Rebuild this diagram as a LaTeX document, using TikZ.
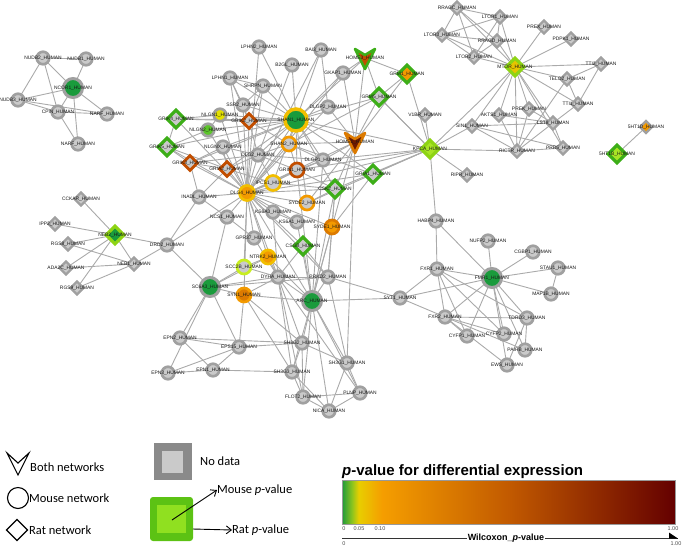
\documentclass[tikz,border=0pt]{standalone}
\usepackage{fontspec}
\setmainfont{Liberation Sans}
\newfontfamily\legf{Carlito}
\usetikzlibrary{shapes.geometric,arrows.meta}
\pgfdeclarelayer{bg}\pgfsetlayers{bg,main}
\definecolor{rg}{HTML}{A0A0A0}
\definecolor{fg}{HTML}{CACACA}
\definecolor{edgec}{HTML}{AAAAAA}
\definecolor{dg}{HTML}{1A9B3C}
\definecolor{gr}{HTML}{3DAE18}
\definecolor{lg}{HTML}{5CC52A}
\definecolor{yl}{HTML}{E3E000}
\definecolor{yr}{HTML}{F2BE00}
\definecolor{or}{HTML}{F39A00}
\definecolor{or2}{HTML}{DC7A00}
\definecolor{do}{HTML}{C24E00}
\definecolor{dr}{HTML}{6E1A00}
\definecolor{lr}{HTML}{8ED414}
\definecolor{lm}{HTML}{A8E425}
\definecolor{ye}{HTML}{E6C400}
\definecolor{yg}{HTML}{C8EE20}
\definecolor{c0}{HTML}{1F9A3A}
\definecolor{c1}{HTML}{8CC41E}
\definecolor{c2}{HTML}{E8CE00}
\definecolor{c3}{HTML}{F59E00}
\definecolor{c4}{HTML}{C25A00}
\definecolor{c5}{HTML}{640000}
\definecolor{sqd}{HTML}{8A8A8A}
\definecolor{gsq}{HTML}{5CC214}
\definecolor{gsqi}{HTML}{90E020}
\pgfdeclarehorizontalshading{cbar}{100bp}{color(0bp)=(c0); color(25bp)=(c0); color(26.5bp)=(c1); color(27.5bp)=(c2); color(31bp)=(c3); color(50bp)=(c4); color(75bp)=(c5); color(100bp)=(c5)}
\newcommand\N[4]{\node[#1,label={[lb]center:#4}] (#2) at (#3) {};}
\newcommand\V[6]{%
  \coordinate (#1) at (#2,#3);
  \path[draw=#4,fill=#5,line width=2.6pt,line join=round,shift={(#2,#3)}]
    (-10,-9) -- (0,-3) -- (10,-9) -- (0,11) -- cycle;
  \node[lb] (#1l) at (#2,#3) {#6};}
\begin{document}
\begin{tikzpicture}[x=1pt,y=-1pt,
  edge/.style={draw=edgec,line width=0.9pt},
  lb/.style={font=\fontsize{4.9}{5}\selectfont,text=black!90,inner sep=0pt},
  cir/.style 2 args={circle,minimum size=12.5pt,inner sep=0pt,draw=#1,fill=#2,line width=2.7pt},
  big/.style={minimum size=19pt,line width=3pt},
  dia/.style 2 args={diamond,minimum size=19pt,inner sep=0pt,draw=#1,fill=#2,line width=3.2pt},
  sdia/.style={minimum size=16pt,line width=2.8pt},
  gc/.style={cir={rg}{fg}},
  gd/.style={diamond,minimum size=14pt,inner sep=0pt,draw=rg,fill=fg,line width=2.4pt},
  legt/.style={font=\legf\fontsize{12.5}{13}\selectfont,anchor=west,inner sep=0pt},
  tick/.style={font=\fontsize{5.5}{6}\selectfont,text=black!70,inner sep=0pt}]
\useasboundingbox (0,0) rectangle (685,550);
% ---------- top-left cluster
\N{gc}{nudb2}{43,58}{NUDB2\_HUMAN}
\N{gc}{nudb1}{86,59}{NUDB1\_HUMAN}
\N{cir={rg}{dg},big}{ncor1}{73,88}{NCOR1\_HUMAN}
\N{gc}{nudb3}{18,100}{NUDB3\_HUMAN}
\N{gc}{cpin}{58,112}{CPIN\_HUMAN}
\N{gc}{narfa}{107,114}{NARF\_HUMAN}
\N{gc}{narfb}{78,144}{NARF\_HUMAN}
% ---------- central cluster
\N{gc}{lphn2}{259,47}{LPHN2\_HUMAN}
\N{gc}{b2gl}{292,65}{B2GL\_HUMAN}
\N{gc}{bai3}{321,50}{BAI3\_HUMAN}
\N{gc}{lphn1}{230,78}{LPHN1\_HUMAN}
\N{gc}{shrpn}{263,86}{SHRPN\_HUMAN}
\N{gc}{ssr2}{243,105}{SSR2\_HUMAN}
\N{dia={gr}{fg}}{grik4}{176,119}{GRIK4\_HUMAN}
\N{cir={rg}{yl}}{nlgn1}{220,115}{NLGN1\_HUMAN}
\N{cir={rg}{lg}}{nlgn2}{208,130}{NLGN2\_HUMAN}
\N{dia={do}{fg},sdia}{grik2}{249,121}{GRIK2\_HUMAN}
\N{gc}{nlgnx}{223,147}{NLGNX\_HUMAN}
\N{dia={gr}{fg}}{grik5}{167,147}{GRIK5\_HUMAN}
\N{dia={do}{fg},sdia}{grik3}{190,163}{GRIK3\_HUMAN}
\N{dia={do}{fg},sdia}{gria2}{227,169}{GRIA2\_HUMAN}
\N{gc}{dlg2}{258,155}{DLG2\_HUMAN}
\N{cir={or}{fg},minimum size=14pt}{shan2}{289,144}{SHAN2\_HUMAN}
\N{gc}{dlgp1}{323,160}{DLGP1\_HUMAN}
\N{cir={do}{fg},minimum size=14pt}{grin1}{297,170}{GRIN1\_HUMAN}
\N{cir={yr}{fg},minimum size=15pt}{ipcs1}{273,183}{IPCS1\_HUMAN}
\N{cir={yr}{or},minimum size=15pt}{dlg4}{247,193}{DLG4\_HUMAN}
\N{gc}{inadl}{199,197}{INADL\_HUMAN}
\N{gc}{ncs1}{227,217}{NCS1\_HUMAN}
\N{gc}{ks6a3}{273,212}{KS6A3\_HUMAN}
\N{gc}{ks6a1}{297,222}{KS6A1\_HUMAN}
\N{cir={or}{fg},minimum size=14pt}{syde2}{307,203}{SYDE2\_HUMAN}
\N{cir={or2}{or},minimum size=14pt}{syde1}{332,227}{SYDE1\_HUMAN}
\N{dia={gr}{fg}}{csk2}{335,189}{CSK2\_HUMAN}
\N{dia={gr}{fg}}{gria1}{373,174}{GRIA1\_HUMAN}
\N{cir={yr}{dg},minimum size=22pt,line width=3.5pt}{shan1}{296,120}{SHAN1\_HUMAN}
\N{gc}{gkap1}{343,73}{GKAP1\_HUMAN}
\N{dia={gr}{or}}{grm1}{407,74}{GRM1\_HUMAN}
\N{dia={gr}{fg}}{grm5}{379,97}{GRM5\_HUMAN}
\N{gd}{v1br}{425,115}{V1BR\_HUMAN}
\N{gc}{dlgp2}{328,107}{DLGP2\_HUMAN}
\V{home1}{355}{142}{or2}{dr}{HOME1\_HUMAN}
\V{home3}{365}{58}{gr}{do}{HOME3\_HUMAN}
\N{dia={lr}{lm}}{kpca}{430,149}{KPCA\_HUMAN}
% ---------- top-right cluster
\N{gd}{rragc}{457,8}{RRAGC\_HUMAN}
\N{gd}{ltor1}{500,17}{LTOR1\_HUMAN}
\N{gd}{prex}{544,27}{PREX\_HUMAN}
\N{gd}{pdpk1}{571,39}{PDPK1\_HUMAN}
\N{gd}{ltor3}{442,35}{LTOR3\_HUMAN}
\N{gd}{rragd}{497,41}{RRAGD\_HUMAN}
\N{gd}{ltor2}{474,57}{LTOR2\_HUMAN}
\N{gd}{tti2}{601,64}{TTI2\_HUMAN}
\N{gd}{telo2}{567,79}{TELO2\_HUMAN}
\N{gd}{tti1}{578,104}{TTI1\_HUMAN}
\N{gd}{prek}{529,109}{PREK\_HUMAN}
\N{gd}{akts1}{499,115}{AKTS1\_HUMAN}
\N{gd}{sin1}{472,126}{SIN1\_HUMAN}
\N{gd}{lst8}{553,123}{LST8\_HUMAN}
\N{gd}{rictr}{517,151}{RICTR\_HUMAN}
\N{gd}{prr5}{563,148}{PRR5\_HUMAN}
\N{dia={lr}{ye}}{mtor}{515,67}{MTOR\_HUMAN}
\N{gd,fill=or,minimum size=13pt}{htd}{646,127}{5HT1D\_HUMAN}
\N{dia={gr}{lm}}{htb}{617,154}{5HT1B\_HUMAN}
\N{gd}{ripr}{467,175}{RIPR\_HUMAN}
% ---------- left-middle cluster
\N{gd}{cckar}{81,199}{CCKAR\_HUMAN}
\N{gd}{ipp2}{55,224}{IPP2\_HUMAN}
\N{dia={lr}{dg}}{neb2}{115,235}{NEB2\_HUMAN}
\N{gd}{rgs8}{68,244}{RGS8\_HUMAN}
\N{gc}{drd2}{167,245}{DRD2\_HUMAN}
\N{gd}{neb1}{134,264}{NEB1\_HUMAN}
\N{gd}{ada2c}{66,268}{ADA2C\_HUMAN}
\N{gd}{rgs9}{77,288}{RGS9\_HUMAN}
% ---------- lower centre
\N{gc}{gpr37}{254,238}{GPR37\_HUMAN}
\N{dia={gr}{fg}}{csgb}{303,246}{CSGB\_HUMAN}
\N{cir={yr}{or},minimum size=14pt}{ntrk2}{268,257}{NTRK2\_HUMAN}
\N{cir={yg}{fg},minimum size=14pt}{scc2b}{244,267}{SCC2B\_HUMAN}
\N{gc}{dyha}{278,277}{DYHA\_HUMAN}
\N{gc}{prkd2}{328,277}{PRKD2\_HUMAN}
\N{cir={rg}{dg},big}{sc6a3}{210,287}{SC6A3\_HUMAN}
\N{cir={or}{or2},minimum size=14pt}{syn1}{244,295}{SYN1\_HUMAN}
\N{cir={rg}{dg},big}{arc}{312,301}{ARC\_HUMAN}
\N{gc}{epn2}{180,338}{EPN2\_HUMAN}
\N{gc}{eps15}{239,347}{EPS15\_HUMAN}
\N{gc}{sh3g2}{302,343}{SH3G2\_HUMAN}
\N{gc}{epn3}{168,373}{EPN3\_HUMAN}
\N{gc}{epn1}{213,370}{EPN1\_HUMAN}
\N{gc}{sh3g3}{292,372}{SH3G3\_HUMAN}
\N{gc}{sh3g1}{347,363}{SH3G1\_HUMAN}
\N{gc}{flot2}{303,397}{FLOT2\_HUMAN}
\N{gc}{plnp}{360,393}{PLNP\_HUMAN}
\N{gc}{nica}{329,411}{NICA\_HUMAN}
% ---------- lower right
\N{gc}{syt1}{400,298}{SYT1\_HUMAN}
\N{gc}{habp4}{436,221}{HABP4\_HUMAN}
\N{gc}{nufp2}{488,241}{NUFP2\_HUMAN}
\N{gc}{cgbp1}{533,252}{CGBP1\_HUMAN}
\N{gc}{fxr1}{437,269}{FXR1\_HUMAN}
\N{cir={rg}{dg},big}{fmr1}{492,278}{FMR1\_HUMAN}
\N{gc}{stau1}{558,268}{STAU1\_HUMAN}
\N{gc}{map1b}{551,294}{MAP1B\_HUMAN}
\N{gc}{fxr2}{445,317}{FXR2\_HUMAN}
\N{gc}{tdrd3}{527,318}{TDRD3\_HUMAN}
\N{gc}{cyfp2}{504,334}{CYFP2\_HUMAN}
\N{gc}{cyfp1}{467,336}{CYFP1\_HUMAN}
\N{gc}{pairb}{525,350}{PAIRB\_HUMAN}
\N{gc}{ews}{507,365}{EWS\_HUMAN}
% ---------- edges
\begin{pgfonlayer}{bg}
\foreach \a/\b in {nudb2/nudb1,nudb2/nudb3,nudb2/cpin,nudb2/ncor1,nudb1/ncor1,ncor1/nudb3,ncor1/cpin,ncor1/narfa,ncor1/narfb,nudb3/cpin,nudb3/narfa,cpin/narfb,cpin/narfa,
shan1/lphn2,shan1/b2gl,shan1/bai3,shan1/lphn1,shan1/shrpn,shan1/ssr2,shan1/gkap1,shan1/home3,shan1/grm5,shan1/dlgp2,shan1/grik2,shan1/nlgn1,shan1/dlg2,shan1/shan2,shan1/dlgp1,shan1/grin1,shan1/dlg4,shan1/ipcs1,shan1/home1,shan1/kpca,shan1/csk2,shan1/grik4,shan1/nlgnx,shan1/gria2,shan1/grik3,shan1/syde2,shan1/nlgn2,shan1/gria1,shan1/grik5,
lphn1/dlg4,lphn1/shrpn,lphn1/ssr2,lphn1/grik2,shrpn/ssr2,shrpn/dlg4,shrpn/grik2,ssr2/dlg4,ssr2/grik2,bai3/dlg4,bai3/dlgp2,b2gl/dlg2,lphn2/dlg4,
gkap1/home3,gkap1/dlg4,gkap1/home1,home3/grm1,home3/grm5,home3/home1,grm5/grm1,grm5/kpca,grm5/home1,grm1/home1,grm5/shan2,dlgp2/home1,dlgp2/dlg4,grm1/kpca,
grik4/dlg4,grik4/nlgn1,grik4/grik2,grik4/grik5,grik5/dlg4,grik5/grik3,grik5/gria2,grik5/nlgn2,grik3/dlg4,grik3/gria2,grik3/nlgnx,grik3/dlg2,grik3/inadl,nlgn1/dlg4,nlgn2/dlg4,nlgn1/nlgn2,nlgnx/dlg4,nlgnx/gria2,nlgnx/dlg2,gria2/dlg4,gria2/dlg2,gria2/ipcs1,gria2/inadl,grik2/dlg4,grik2/dlg2,grik2/shan2,
dlg2/dlg4,dlg2/shan2,dlg2/grin1,dlg2/ipcs1,dlg2/dlgp1,shan2/dlg4,shan2/grin1,shan2/dlgp1,shan2/home1,dlgp1/dlg4,dlgp1/grin1,dlgp1/kpca,dlgp1/home1,grin1/dlg4,grin1/ipcs1,grin1/kpca,grin1/csk2,ipcs1/dlg4,ipcs1/csk2,
dlg4/inadl,dlg4/ncs1,dlg4/ks6a3,dlg4/ks6a1,dlg4/syde2,dlg4/syde1,dlg4/csk2,dlg4/gpr37,dlg4/ntrk2,dlg4/scc2b,dlg4/dyha,dlg4/prkd2,dlg4/arc,dlg4/home1,dlg4/kpca,dlg4/drd2,dlg4/gria1,dlg4/csgb,dlg4/syn1,
syde2/csk2,syde2/kpca,csk2/kpca,csk2/syde1,gria1/kpca,gria1/syde1,gria1/shan2,home1/csk2,home1/syde2,v1br/kpca,ks6a3/ks6a1,inadl/ncs1,inadl/drd2,ncs1/sc6a3,ncs1/gpr37,ks6a3/dyha,home1/arc,home1/sh3g1,dlgp1/arc,csk2/arc,csk2/prkd2,syde1/arc,syde1/prkd2,ks6a1/arc,grin1/arc,
drd2/sc6a3,sc6a3/scc2b,sc6a3/dyha,sc6a3/prkd2,sc6a3/syn1,sc6a3/epn2,sc6a3/epn3,sc6a3/eps15,sc6a3/ntrk2,gpr37/dyha,csgb/dyha,csgb/prkd2,csgb/arc,ntrk2/scc2b,ntrk2/dyha,ntrk2/arc,scc2b/dyha,scc2b/syn1,dyha/prkd2,dyha/arc,dyha/sh3g2,dyha/sh3g3,dyha/syn1,prkd2/arc,prkd2/sh3g1,prkd2/syt1,syn1/arc,syn1/eps15,syn1/sh3g2,syn1/sh3g3,arc/sh3g2,arc/sh3g3,arc/sh3g1,arc/flot2,arc/nica,arc/plnp,arc/syt1,
epn2/eps15,epn2/epn1,epn2/sh3g2,epn3/epn1,epn3/eps15,epn1/eps15,eps15/sh3g2,epn1/sh3g3,sh3g2/sh3g3,sh3g2/sh3g1,sh3g2/flot2,sh3g3/flot2,sh3g3/nica,sh3g1/plnp,sh3g1/nica,flot2/nica,flot2/plnp,plnp/nica,dyha/plnp,dyha/flot2,
syt1/fxr1,syt1/fmr1,syt1/fxr2,kpca/habp4,habp4/fxr1,habp4/fmr1,nufp2/fmr1,cgbp1/fmr1,stau1/fmr1,stau1/map1b,map1b/fmr1,fxr1/fmr1,fxr1/fxr2,fxr1/cyfp2,fxr1/cyfp1,fxr1/tdrd3,fmr1/fxr2,fmr1/tdrd3,fmr1/cyfp2,fmr1/cyfp1,fmr1/pairb,fmr1/ews,fxr2/tdrd3,fxr2/cyfp2,fxr2/cyfp1,fxr2/pairb,fxr2/ews,tdrd3/ews,tdrd3/pairb,
kpca/mtor,kpca/sin1,kpca/rictr,kpca/ripr,kpca/grm5,
rragc/ltor1,rragc/ltor3,rragc/rragd,rragc/ltor2,rragc/mtor,ltor1/ltor3,ltor1/rragd,ltor1/ltor2,ltor1/mtor,ltor3/rragd,ltor3/ltor2,ltor3/mtor,rragd/ltor2,rragd/mtor,ltor2/mtor,prex/mtor,pdpk1/mtor,mtor/tti2,mtor/telo2,mtor/tti1,mtor/prek,mtor/akts1,mtor/sin1,mtor/lst8,mtor/rictr,mtor/prr5,tti2/telo2,tti2/tti1,telo2/tti1,telo2/rictr,tti1/lst8,prek/rictr,prek/lst8,akts1/lst8,akts1/rictr,sin1/lst8,sin1/rictr,sin1/prr5,lst8/rictr,lst8/prr5,rictr/prr5,htd/htb,
cckar/neb2,ipp2/neb2,rgs8/neb2,rgs8/neb1,ada2c/neb2,ada2c/neb1,rgs9/neb2,rgs9/neb1,neb2/neb1,neb2/drd2,neb1/drd2}
  \draw[edge] (\a.center) -- (\b.center);
\end{pgfonlayer}
% ---------- legend: shapes
\draw[line width=1.1pt,line join=miter,fill=white] (7,453) -- (18,463) -- (29,453) -- (18,475) -- cycle;
\node[legt] (lboth) at (30,467) {Both networks};
\draw[line width=1.1pt] (18,498) circle (10.5pt);
\node[legt] (lmouse) at (29,498) {Mouse network};
\draw[line width=1.1pt] (6.5,530) -- (17,519.5) -- (27.5,530) -- (17,540.5) -- cycle;
\node[legt] (lrat) at (29,530) {Rat network};
% ---------- legend: squares
\fill[sqd] (154,443) rectangle (192,480);
\fill[fg] (162,451) rectangle (183,473);
\node[legt] (lnod) at (200,461) {No data};
\fill[gsq,rounded corners=3pt] (150,497) rectangle (193,541);
\fill[gsqi] (157,505) rectangle (186,533);
\coordinate (ma) at (172,520);
\coordinate (ra) at (193,529);
\node[legt] (lmp) at (217,490) {Mouse \textit{p}-value};
\node[legt] (lrp) at (232,530) {Rat \textit{p}-value};
\draw[line width=0.9pt,-{Straight Barb[length=5pt,width=8pt]}] (ma) -- (lmp.west);
\draw[line width=0.9pt,-{Straight Barb[length=5pt,width=8pt]}] (ra) -- (lrp.west);
% ---------- colour bar
\node[font=\bfseries\fontsize{15}{15}\selectfont,anchor=base west,inner sep=0pt] (cbt) at (342,475) {\textit{p}-value for differential expression};
\shade[shading=cbar] (342,480) rectangle (675,524);
\draw[black!40,line width=0.4pt] (342,480) rectangle (675,524);
\node[tick] (t0) at (344,529) {0};
\node[tick] (t05) at (359,529) {0.05};
\node[tick] (t10) at (380,529) {0.10};
\node[tick] (t100) at (673,529) {1.00};
\draw[line width=0.5pt,black!80] (342,538) -- (678,538);
\node[font=\bfseries\fontsize{9}{9}\selectfont,fill=white,inner sep=1pt] (wil) at (506,538) {Wilcoxon\_\textit{p}-value};
\fill[black] (669,532.5) -- (678,538.5) -- (669,538.5) -- cycle;
\node[tick] (b0) at (344,544) {0};
\node[tick] (b100) at (676,544) {1.00};
\end{tikzpicture}
\end{document}
